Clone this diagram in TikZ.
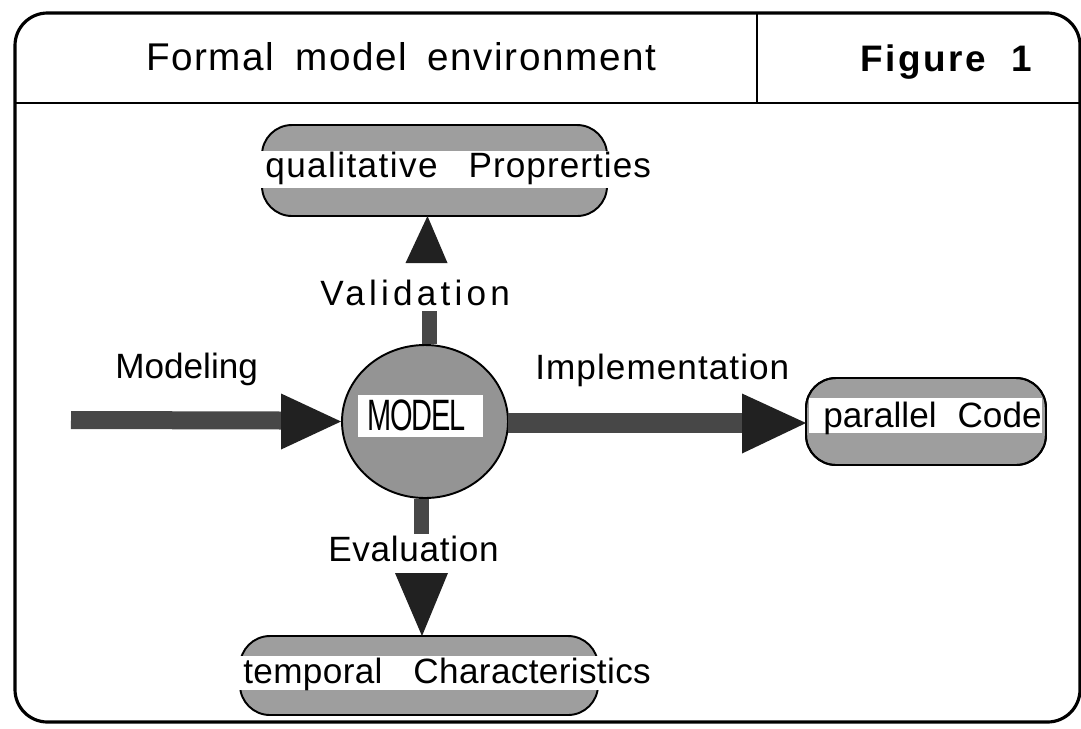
\documentclass[tikz,border=0pt]{standalone}
\usepackage{fontspec}
\usepackage{graphicx}
\setmainfont{Liberation Sans}
\usetikzlibrary{calc,shapes.geometric}
\definecolor{pillgray}{gray}{0.62}
\definecolor{ballgray}{gray}{0.58}
\definecolor{shaftgray}{gray}{0.28}
\definecolor{headgray}{gray}{0.13}
\begin{document}
\begin{tikzpicture}[x=0.02cm,y=-0.02cm,
  frameline/.style={line width=1.8pt, rounded corners=0.65cm},
  pill/.style={draw, line width=1.1pt, fill=pillgray, rounded corners=0.6cm, inner sep=0pt, outer sep=0pt},
  lbl/.style={font=\fontsize{20}{24}\selectfont, inner sep=0pt},
  shaft/.style={draw=shaftgray},
  head/.style={fill=headgray}]
\useasboundingbox (0,0) rectangle (1081,728);
% frame
\draw[frameline] (15,13) rectangle (1080,722);
\draw[line width=1.5pt] (15,103) -- (1080,103);
\draw[line width=1.3pt] (757,13) -- (757,103);
\node[lbl, anchor=base west, font=\fontsize{22}{26}\selectfont] (title) at (146,70)
  {\addfontfeature{LetterSpace=4}Formal\hspace{0.42cm}model\hspace{0.42cm}environment};
\node[lbl, anchor=base west, font=\fontsize{21}{24}\selectfont\bfseries] (fig) at (860,71)
  {\addfontfeature{LetterSpace=7}Figure\hspace{0.5cm}1};
% top pill
\node[pill, minimum width=345*0.02cm, minimum height=91*0.02cm] (qp) at (434.5,170.5) {};
\fill[white] ($(qp.west)+(-2,-20)$) rectangle (668,188);
\node[lbl, anchor=base west] (qpt) at (265,177)
  {\addfontfeature{LetterSpace=4}qualitative\hspace{0.62cm}\addfontfeature{LetterSpace=3}Proprerties};
% bottom pill
\node[pill, minimum width=358*0.02cm, minimum height=79*0.02cm] (tc) at (419,675.5) {};
\fill[white] ($(tc.west)+(-2,-20)$) rectangle (662,690);
\node[lbl, anchor=base west] (tct) at (243,683)
  {\addfontfeature{LetterSpace=1}temporal\hspace{0.62cm}Characteristics};
% parallel code pill
\node[pill, minimum width=240*0.02cm, minimum height=87*0.02cm] (pc) at (926,421.5) {};
\fill[white] ($(pc.west)+(3,-24)$) rectangle ($(pc.east)+(-4,11)$);
\node[lbl, anchor=base west] (pct) at (823,427)
  {parallel\hspace{0.42cm}Code};
\draw[line width=1.1pt, rounded corners=0.6cm] (pc.south west) rectangle (pc.north east);
% model
\node[ellipse, draw, line width=1.1pt, fill=ballgray, minimum width=166*0.02cm, minimum height=153*0.02cm, inner sep=0pt] (model) at (425,421.5) {};
\node[fill=white, inner sep=0pt, minimum width=125*0.02cm, minimum height=42*0.02cm] (mbox) at (420.5,416) {};
\node[lbl, anchor=base west, font=\fontsize{25}{28}\selectfont] (mlabel) at (367,430)
  {\addfontfeature{LetterSpace=-4}\scalebox{0.66}[1]{MODEL}};
% labels
\node[lbl, anchor=base west] (lmod) at (115,378) {Modeling};
\node[lbl, anchor=base west] (limp) at (535,379) {\addfontfeature{LetterSpace=3}Implementation};
\node[lbl, anchor=base west] (lval) at (320,305) {\addfontfeature{LetterSpace=12}Validation};
\node[lbl, anchor=base west] (leva) at (328,561) {\addfontfeature{LetterSpace=2}Evaluation};
% Modeling arrow
\coordinate (mstart) at (71,420);
\draw[shaft, line width=18*0.02cm] (mstart) -- ($(model.west)+(-56,-1)$);
\fill[head] ($(model.west)+(-60,-28)$) -- ($(model.west)+(-60,28)$) -- (model.west) -- cycle;
% Implementation arrow
\draw[shaft, line width=20*0.02cm] ($(model.east)+(-1,1.5)$) -- ($(pc.west)+(-60,1.5)$);
\fill[head] ($(pc.west)+(-64,-28)$) -- ($(pc.west)+(-64,32)$) -- ($(pc.west)+(0,1.5)$) -- cycle;
% Validation arrow
\draw[shaft, line width=15*0.02cm] ($(model.north)+(4,0)$) -- ($(model.north)+(4,-33)$);
\coordinate (vtip) at ($(qp.south)+(-7,0)$);
\fill[head] ($(vtip)+(-22,47)$) -- ($(vtip)+(20,47)$) -- (vtip) -- cycle;
% Evaluation arrow
\draw[shaft, line width=15*0.02cm] ($(model.south)+(-4,0)$) -- ($(model.south)+(-4,35)$);
\coordinate (etip) at ($(tc.north)+(3,0)$);
\fill[head] ($(etip)+(-27,-63)$) -- ($(etip)+(26,-63)$) -- (etip) -- cycle;
\end{tikzpicture}
\end{document}
